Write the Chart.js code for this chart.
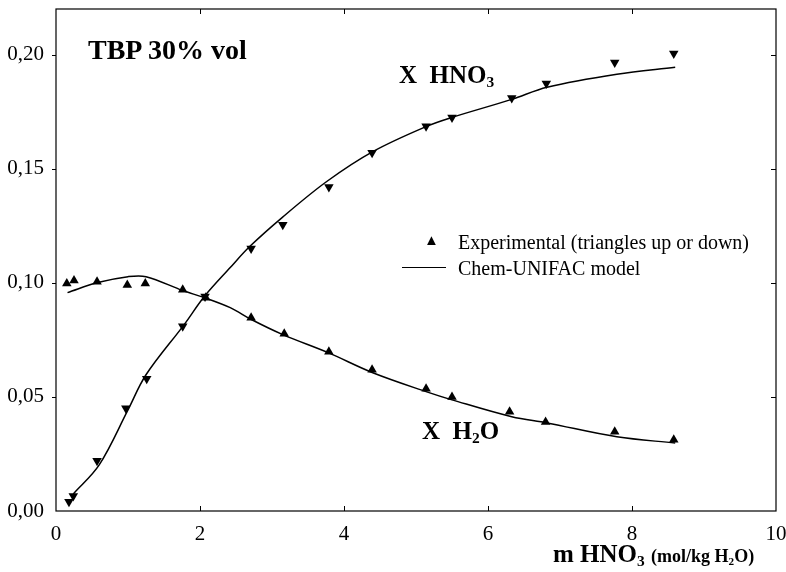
<!DOCTYPE html>
<html>
<head>
<meta charset="utf-8">
<script src="https://cdn.jsdelivr.net/npm/chart.js@4"></script>
<style>
  html, body { margin: 0; padding: 0; background: #fff; }
  #wrap { position: relative; width: 786px; height: 572px; font-family: "Liberation Serif", "Times New Roman", serif; color: #000; }
  #chart { position: absolute; left: 0; top: 0; }
  .lbl { position: absolute; white-space: pre; line-height: 1; }
  .b { font-weight: bold; }
  sub { font-size: 0.62em; vertical-align: -0.28em; line-height: 0; }
</style>
</head>
<body>
<div id="wrap">
  <canvas id="chart" width="786" height="572"></canvas>
  <div class="lbl b" style="left:88px; top:36px; font-size:28px;">TBP 30% vol</div>
  <div class="lbl b" style="left:399px; top:62px; font-size:25px;">X  HNO<sub>3</sub></div>
  <div class="lbl b" style="left:422px; top:418px; font-size:25px;">X  H<sub>2</sub>O</div>
  <div class="lbl" style="left:424px; top:233px; font-size:15px;">&#9650;</div>
  <div class="lbl" style="left:458px; top:232px; font-size:20px;">Experimental (triangles up or down)</div>
  <div style="position:absolute; left:402px; top:267px; width:44px; border-top:1.5px solid #000;"></div>
  <div class="lbl" style="left:458px; top:258px; font-size:20px;">Chem-UNIFAC model</div>
  <div class="lbl b" style="left:553px; top:541px; font-size:25px;">m HNO<sub>3</sub> <span style="font-size:18px;">(mol/kg H<sub>2</sub>O)</span></div>
</div>
<script>
// ---- DATA ----
const hno3ExpX = [0.18, 0.24, 0.57, 0.97, 1.26, 1.76, 2.07, 2.71, 3.15, 3.79, 4.39, 5.14, 5.50, 6.33, 6.81, 7.76, 8.58];
const hno3ExpY = [0.004, 0.0066, 0.022, 0.045, 0.058, 0.081, 0.094, 0.115, 0.1255, 0.142, 0.157, 0.1686, 0.1725, 0.181, 0.1874, 0.1965, 0.2005];

const h2oExpX = [0.15, 0.25, 0.57, 0.99, 1.24, 1.76, 2.08, 2.71, 3.17, 3.79, 4.39, 5.14, 5.50, 6.30, 6.80, 7.76, 8.58];
const h2oExpY = [0.0997, 0.101, 0.1005, 0.099, 0.0997, 0.097, 0.0935, 0.0847, 0.0777, 0.0698, 0.0619, 0.0536, 0.050, 0.0435, 0.039, 0.0347, 0.0312];

const hno3ModelX = [0.24, 0.60, 1.00, 1.25, 1.78, 2.06, 2.42, 2.69, 3.14, 3.76, 4.40, 5.15, 5.50, 6.33, 6.82, 7.79, 8.60];
const hno3ModelY = [0.0075, 0.0202, 0.0443, 0.0597, 0.0817, 0.094, 0.1067, 0.1159, 0.1286, 0.1444, 0.1575, 0.1686, 0.1725, 0.1804, 0.1857, 0.1914, 0.1945];

const h2oModelX = [0.16, 0.58, 1.00, 1.25, 1.76, 2.06, 2.42, 2.72, 3.15, 3.78, 4.40, 5.15, 5.50, 6.33, 6.82, 7.79, 8.60];
const h2oModelY = [0.0957, 0.1001, 0.1027, 0.1027, 0.0966, 0.0935, 0.0891, 0.0838, 0.0773, 0.0694, 0.0606, 0.0522, 0.0487, 0.0413, 0.0386, 0.0325, 0.0298];

const xTicks = [0, 2, 4, 6, 8, 10];
const yTicks = [0, 0.05, 0.10, 0.15, 0.20];

const pts = (xs, ys) => xs.map((x, i) => ({ x: x, y: ys[i] }));

// frame + tick marks (left ticks outward, others inward)
const framePlugin = {
  id: 'frame',
  afterDraw(chart) {
    const { ctx, chartArea: a, scales } = chart;
    ctx.save();
    ctx.strokeStyle = '#000';
    ctx.lineWidth = 1.2;
    ctx.strokeRect(a.left, a.top, a.right - a.left, a.bottom - a.top);
    ctx.lineWidth = 1;
    ctx.beginPath();
    xTicks.slice(1, -1).forEach(v => {
      const px = Math.round(scales.x.getPixelForValue(v)) + 0.5;
      ctx.moveTo(px, a.bottom); ctx.lineTo(px, a.bottom - 5);
      ctx.moveTo(px, a.top); ctx.lineTo(px, a.top + 5);
    });
    yTicks.slice(1).forEach(v => {
      const py = Math.round(scales.y.getPixelForValue(v)) + 0.5;
      ctx.moveTo(a.left, py); ctx.lineTo(a.left - 4, py);
      ctx.moveTo(a.right, py); ctx.lineTo(a.right - 5, py);
    });
    ctx.stroke();
    ctx.restore();
  }
};

const ctx = document.getElementById('chart').getContext('2d');
const chart = new Chart(ctx, {
  type: 'scatter',
  data: {
    datasets: [
      { label: 'HNO3 model', data: pts(hno3ModelX, hno3ModelY), showLine: true, pointRadius: 0,
        borderColor: '#000', borderWidth: 1.5, tension: 0.35 },
      { label: 'H2O model', data: pts(h2oModelX, h2oModelY), showLine: true, pointRadius: 0,
        borderColor: '#000', borderWidth: 1.5, tension: 0.35 },
      { label: 'HNO3 exp', data: pts(hno3ExpX, hno3ExpY), pointStyle: 'triangle', rotation: 180,
        pointRadius: 5.5, backgroundColor: '#000', borderColor: '#000', borderWidth: 0 },
      { label: 'H2O exp', data: pts(h2oExpX, h2oExpY), pointStyle: 'triangle',
        pointRadius: 5.5, backgroundColor: '#000', borderColor: '#000', borderWidth: 0 }
    ]
  },
  options: {
    responsive: false,
    animation: false,
    devicePixelRatio: 1,
    layout: { padding: { top: 9, right: 10, left: 0, bottom: 0 } },
    plugins: { legend: { display: false }, tooltip: { enabled: false } },
    scales: {
      x: {
        type: 'linear', min: 0, max: 10,
        grid: { display: false, drawTicks: false }, border: { display: false },
        afterBuildTicks: s => { s.ticks = xTicks.map(v => ({ value: v })); },
        afterFit: s => { s.height = 61; s.paddingLeft = 0; s.paddingRight = 0; },
        ticks: { color: '#000', padding: 11, maxRotation: 0, font: { family: 'Liberation Serif', size: 21 },
                 callback: v => String(v) }
      },
      y: {
        type: 'linear', min: 0, max: 0.22,
        grid: { display: false, drawTicks: false }, border: { display: false },
        afterBuildTicks: s => { s.ticks = yTicks.map(v => ({ value: v })); },
        afterFit: s => { s.width = 56; s.paddingTop = 0; s.paddingBottom = 0; },
        ticks: { color: '#000', padding: 12, font: { family: 'Liberation Serif', size: 21 },
                 callback: v => v.toFixed(2).replace('.', ',') }
      }
    }
  },
  plugins: [framePlugin]
});
</script>
</body>
</html>
